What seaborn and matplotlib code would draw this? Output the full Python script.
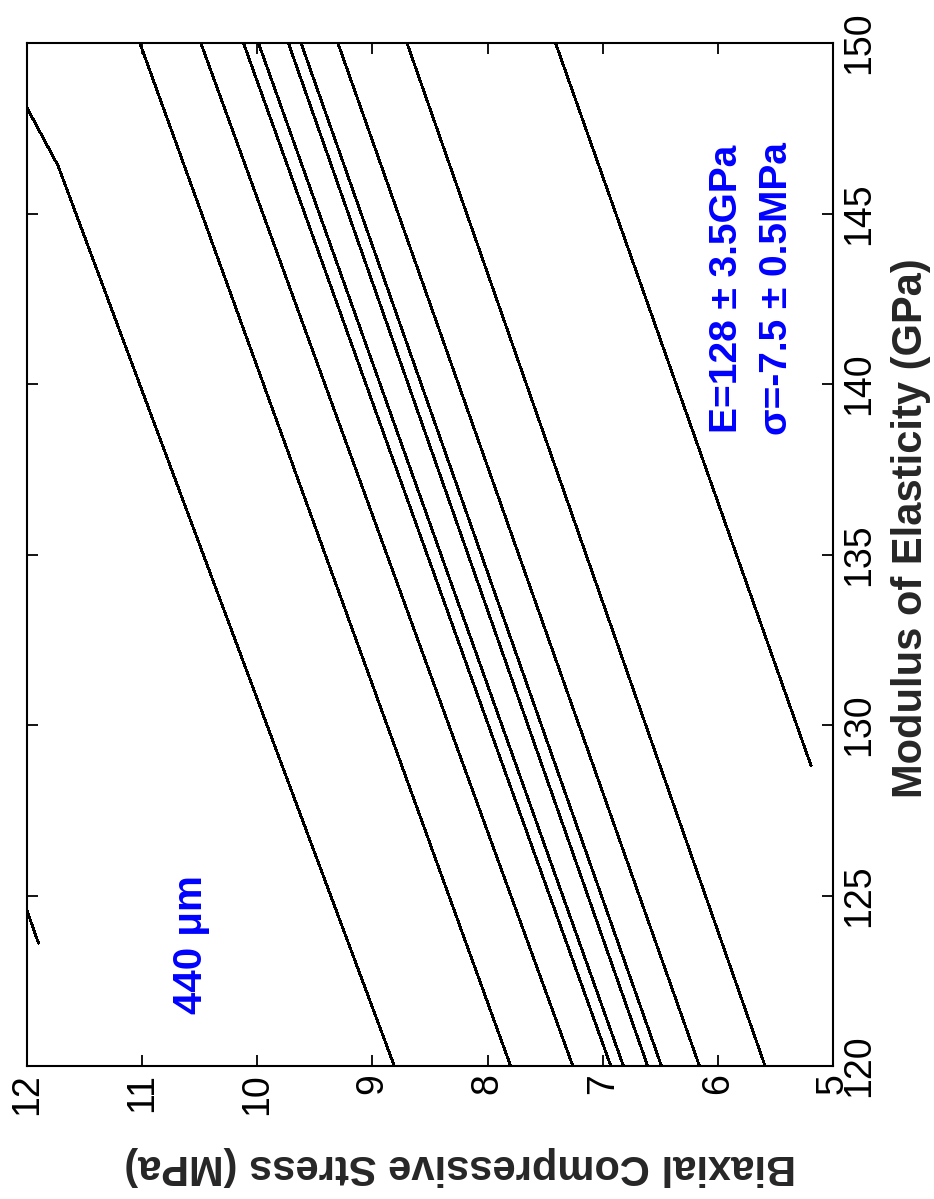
import matplotlib
matplotlib.use("Agg")
import matplotlib.pyplot as plt
import numpy as np
import pandas as pd
import seaborn as sns

# Biaxial compressive stress (MPa) against modulus of elasticity (GPa),
# one curve per measured resonance.
c01_modulus = [150.0, 148.1, 146.4, 120.0]
c01_stress = [12.30, 12.00, 11.73, 8.81]
c02_modulus = [150.0, 120.0]
c02_stress = [11.02, 7.80]
c03_modulus = [150.0, 120.0]
c03_stress = [10.49, 7.26]
c04_modulus = [150.0, 120.0]
c04_stress = [10.12, 6.93]
c05_modulus = [150.0, 120.0]
c05_stress = [9.99, 6.82]
c06_modulus = [150.0, 120.0]
c06_stress = [9.73, 6.61]
c07_modulus = [150.0, 120.0]
c07_stress = [9.62, 6.49]
c08_modulus = [150.0, 120.0]
c08_stress = [9.30, 6.16]
c09_modulus = [150.0, 120.0]
c09_stress = [8.70, 5.59]
c10_modulus = [150.0, 128.8]
c10_stress = [7.41, 5.19]
c11_modulus = [123.6, 126.0]
c11_stress = [11.90, 12.15]

stress_ticks = [5, 6, 7, 8, 9, 10, 11, 12]
modulus_ticks = [120, 125, 130, 135, 140, 145, 150]

thickness_label = "440 \u03bcm"
modulus_result = "E=128 \u00b1 3.5GPa"
stress_result = "\u03c3=-7.5 \u00b1 0.5MPa"
xlabel_text = "Biaxial Compressive Stress (MPa)"
ylabel_text = "Modulus of Elasticity (GPa)"

curves = [
    (c01_modulus, c01_stress), (c02_modulus, c02_stress), (c03_modulus, c03_stress),
    (c04_modulus, c04_stress), (c05_modulus, c05_stress), (c06_modulus, c06_stress),
    (c07_modulus, c07_stress), (c08_modulus, c08_stress), (c09_modulus, c09_stress),
    (c10_modulus, c10_stress), (c11_modulus, c11_stress),
]
frames = []
for i, (m, s) in enumerate(curves):
    frames.append(pd.DataFrame({"curve": i, "modulus": m, "stress": s}))
df = pd.concat(frames, ignore_index=True)

sns.set_style("white")
plt.rcParams["font.family"] = ["Liberation Sans", "DejaVu Sans"]

fig = plt.figure(figsize=(9.34, 11.99), dpi=100)
ax = fig.add_axes([0.0289, 0.1109, 0.8630, 0.8532])

sns.lineplot(data=df, x="stress", y="modulus", units="curve", estimator=None,
             sort=False, color="black", linewidth=1.3, legend=False, ax=ax)
for ln in ax.get_lines():
    ln.set_antialiased(False)

ax.set_xlim(12, 5)
ax.set_ylim(120, 150)
ax.set_xticks(stress_ticks)
ax.set_yticks(modulus_ticks)
ax.set_xticklabels([str(v) for v in stress_ticks])
ax.set_yticklabels([str(v) for v in modulus_ticks])

for sp in ax.spines.values():
    sp.set_visible(True)
    sp.set_color("black")
    sp.set_linewidth(1.5)

ax.tick_params(axis="both", which="major", direction="in", length=8, width=1.3,
               color="black", labelsize=27, labelcolor="black")
ax.tick_params(axis="x", bottom=True, top=True, labelbottom=True, labeltop=False,
               labelrotation=90, pad=5)
ax.tick_params(axis="y", left=True, right=True, labelleft=False, labelright=True,
               labelrotation=90, pad=6)
for lbl in ax.get_yticklabels():
    lbl.set_va("center")

ax.set_xlabel(xlabel_text, fontsize=30, fontweight="bold", rotation=180)
ax.xaxis.label.set_va("center")
ax.xaxis.set_label_coords(0.537, -0.098)
ax.yaxis.set_label_position("right")
ax.set_ylabel(ylabel_text, fontsize=30, fontweight="bold", rotation=90)
ax.yaxis.label.set_va("center")
ax.yaxis.label.set_ha("center")
ax.yaxis.set_label_coords(1.097, 0.526)

ax.text(10.58, 123.56, thickness_label, color="blue", fontsize=29,
        fontweight="bold", rotation=90, ha="center", va="center")
ax.text(5.92, 142.8, modulus_result, color="blue", fontsize=28,
        fontweight="bold", rotation=90, ha="center", va="center")
ax.text(5.49, 142.8, stress_result, color="blue", fontsize=28,
        fontweight="bold", rotation=90, ha="center", va="center")

fig.savefig("out.png", dpi=100, facecolor="white")
